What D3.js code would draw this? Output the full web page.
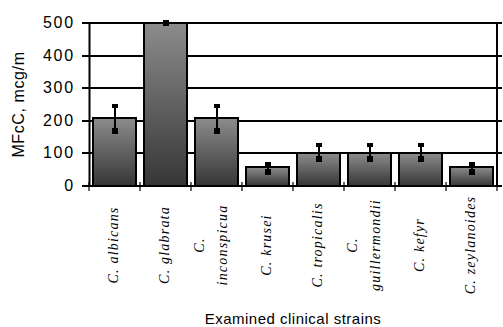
<!DOCTYPE html>
<html>
<head>
<meta charset="utf-8">
<script src="https://cdn.jsdelivr.net/npm/d3@7"></script>
<style>
  html, body { margin: 0; padding: 0; background: #fff; }
  svg { display: block; }
</style>
</head>
<body>
<svg id="chart" width="503" height="327"></svg>
<script>
// Strains (each entry is a list of label lines), mean MFcC and error-bar ends
const strains = [
  ["C. albicans"],
  ["C. glabrata"],
  ["C.", "inconspicua"],
  ["C. krusei"],
  ["C. tropicalis"],
  ["C.", "guillermondii"],
  ["C. kefyr"],
  ["C. zeylanoides"]
];
const mfcc    = [210, 500, 210, 58, 100, 100, 100, 58];
const errLow  = [169, 500, 169, 43,  83,  83,  83, 43];
const errHigh = [245, 500, 245, 69, 126, 126, 126, 69];
const yTicks  = [0, 100, 200, 300, 400, 500];

const yTitle = "MFcC, mcg/m";
const xTitle = "Examined clinical strains";

const svg = d3.select("#chart");
const plot = { left: 89, right: 497, top: 23, bottom: 186 };
const lw = 2;

const x = d3.scaleBand()
  .domain(d3.range(strains.length))
  .range([plot.left, plot.right])
  .paddingInner(0.16)
  .paddingOuter(0.08);

const y = d3.scaleLinear().domain([0, 500]).range([plot.bottom, plot.top]);
const yr = v => Math.round(y(v));

// vertical grey gradient used for every bar
const defs = svg.append("defs");
const grad = defs.append("linearGradient")
  .attr("id", "barFill").attr("x1", 0).attr("y1", 0).attr("x2", 0).attr("y2", 1);
grad.append("stop").attr("offset", "0%").attr("stop-color", "#8c8c8c");
grad.append("stop").attr("offset", "100%").attr("stop-color", "#363636");

// horizontal gridlines
svg.append("g")
  .selectAll("line")
  .data(yTicks.filter(d => d > 0))
  .join("line")
  .attr("x1", plot.left).attr("x2", plot.right + 5)
  .attr("y1", d => yr(d)).attr("y2", d => yr(d))
  .attr("stroke", "#000").attr("stroke-width", lw);

// right frame line
svg.append("line")
  .attr("x1", plot.right).attr("x2", plot.right)
  .attr("y1", yr(500)).attr("y2", plot.bottom)
  .attr("stroke", "#000").attr("stroke-width", lw);

// bars
svg.append("g")
  .selectAll("rect")
  .data(mfcc)
  .join("rect")
  .attr("x", (d, i) => Math.round(x(i)))
  .attr("width", Math.round(x.bandwidth()))
  .attr("y", d => yr(d))
  .attr("height", d => plot.bottom - yr(d))
  .attr("fill", "url(#barFill)")
  .attr("stroke", "#000")
  .attr("stroke-width", lw);

// error bars: stem, small cap at the top, square at the bottom
const eb = svg.append("g");
mfcc.forEach((v, i) => {
  const cx = Math.round(x(i) + x.bandwidth() / 2);
  const yHi = yr(errHigh[i]), yLo = yr(errLow[i]);
  eb.append("line")
    .attr("x1", cx).attr("x2", cx).attr("y1", yHi).attr("y2", yLo)
    .attr("stroke", "#000").attr("stroke-width", 2);
  eb.append("rect")
    .attr("x", cx - 3).attr("y", yHi - 2).attr("width", 6).attr("height", 4)
    .attr("fill", "#000");
  eb.append("rect")
    .attr("x", cx - 3).attr("y", yLo - 3).attr("width", 6).attr("height", 6)
    .attr("fill", "#000");
});

// y axis
const yAxis = svg.append("g")
  .attr("transform", `translate(${plot.left},0)`)
  .call(d3.axisLeft(y).tickValues(yTicks).tickSize(7).tickSizeOuter(0).tickPadding(7));
yAxis.select(".domain").attr("stroke", "#000").attr("stroke-width", lw);
yAxis.selectAll(".tick")
  .attr("transform", d => `translate(0,${yr(d)})`);
yAxis.selectAll(".tick line").attr("stroke", "#000").attr("stroke-width", lw);
yAxis.selectAll(".tick text")
  .attr("font-family", "Arial, 'Liberation Sans', sans-serif")
  .attr("font-size", 16)
  .attr("letter-spacing", 1.8)
  .attr("fill", "#000");

// x axis with ticks at the category boundaries
const xAxis = svg.append("g");
xAxis.append("line")
  .attr("x1", plot.left - 1).attr("x2", plot.right + 5)
  .attr("y1", plot.bottom).attr("y2", plot.bottom)
  .attr("stroke", "#000").attr("stroke-width", lw);
const bounds = d3.range(strains.length + 1).map(i =>
  i < strains.length ? x(i) - x.step() * x.paddingInner() / 2 : plot.right);
bounds[0] = plot.left;
xAxis.selectAll("line.tk")
  .data(bounds)
  .join("line")
  .attr("class", "tk")
  .attr("x1", d => Math.round(d)).attr("x2", d => Math.round(d))
  .attr("y1", plot.bottom - 4).attr("y2", plot.bottom + 5)
  .attr("stroke", "#000").attr("stroke-width", 1.2);

// rotated italic category labels
const lab = svg.append("g");
strains.forEach((lines, i) => {
  const cx = x(i) + x.bandwidth() / 2;
  const offs = lines.length === 1 ? [3] : [-13, 10];
  lines.forEach((t, j) => {
    lab.append("text")
      .attr("transform", `translate(${cx + offs[j]},245) rotate(-90)`)
      .attr("text-anchor", "middle")
      .attr("font-family", "'Times New Roman', 'Liberation Serif', serif")
      .attr("font-style", "italic")
      .attr("font-size", 14)
      .attr("letter-spacing", 1.2)
      .attr("fill", "#000")
      .text(t);
  });
});

// axis titles
svg.append("text")
  .attr("transform", `translate(24,${(plot.top + plot.bottom) / 2}) rotate(-90)`)
  .attr("text-anchor", "middle")
  .attr("font-family", "Arial, 'Liberation Sans', sans-serif")
  .attr("font-size", 16)
  .attr("letter-spacing", 0.6)
  .attr("fill", "#000")
  .text(yTitle);

svg.append("text")
  .attr("x", (plot.left + plot.right) / 2)
  .attr("y", 324)
  .attr("text-anchor", "middle")
  .attr("font-family", "Arial, 'Liberation Sans', sans-serif")
  .attr("font-size", 15)
  .attr("letter-spacing", 0.5)
  .attr("fill", "#000")
  .text(xTitle);
</script>
</body>
</html>
